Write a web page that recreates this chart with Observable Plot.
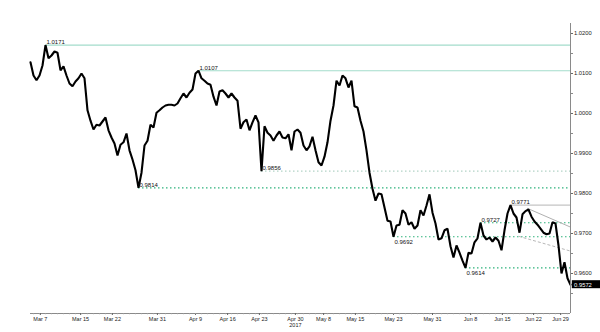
<!DOCTYPE html>
<html><head><meta charset="utf-8">
<script src="https://cdn.jsdelivr.net/npm/d3@7"></script>
<script src="https://cdn.jsdelivr.net/npm/@observablehq/plot@0.6"></script>
<style>body{margin:0;background:#fff}#chart svg{display:block}</style>
</head><body><div id="chart"></div>
<script>
// USD/CHF, Mar 7 – Jun 29 2017, one value per session step
const prices = [
1.0128,1.0095,1.0083,1.0095,1.0120,1.0171,1.0138,1.0145,1.0155,1.0152,
1.0108,1.0118,1.0095,1.0075,1.0068,1.0080,1.0088,1.0100,1.0088,1.0008,
0.9982,0.9960,0.9972,0.9970,0.9980,0.9990,0.9958,0.9940,0.9925,0.9895,
0.9922,0.9928,0.9950,0.9908,0.9885,0.9858,0.9814,0.9852,0.9920,0.9932,
0.9972,0.9965,1.0002,1.0008,1.0015,1.0020,1.0022,1.0022,1.0020,1.0025,
1.0038,1.0050,1.0040,1.0052,1.0060,1.0100,1.0107,1.0088,1.0082,1.0075,
1.0072,1.0042,1.0020,1.0055,1.0058,1.0050,1.0040,1.0050,1.0040,1.0032,
0.9962,0.9978,0.9985,0.9958,0.9978,0.9995,0.9978,0.9856,0.9968,0.9952,
0.9945,0.9932,0.9945,0.9955,0.9940,0.9938,0.9948,0.9908,0.9955,0.9960,
0.9952,0.9920,0.9908,0.9918,0.9942,0.9908,0.9878,0.9870,0.9892,0.9928,
0.9982,1.0020,1.0082,1.0070,1.0095,1.0088,1.0065,1.0082,1.0018,1.0015,
0.9982,0.9955,0.9908,0.9852,0.9812,0.9782,0.9800,0.9798,0.9765,0.9732,
0.9730,0.9692,0.9720,0.9722,0.9758,0.9750,0.9722,0.9728,0.9712,0.9720,
0.9758,0.9745,0.9770,0.9798,0.9752,0.9725,0.9685,0.9688,0.9708,0.9712,
0.9668,0.9640,0.9670,0.9652,0.9632,0.9614,0.9652,0.9650,0.9678,0.9688,
0.9727,0.9695,0.9685,0.9690,0.9680,0.9690,0.9682,0.9658,0.9708,0.9750,
0.9771,0.9750,0.9740,0.9702,0.9748,0.9756,0.9760,0.9742,0.9730,0.9722,
0.9712,0.9702,0.9698,0.9700,0.9728,0.9725,0.9670,0.9600,0.9628,0.9588,
0.9572];

const dateTickAt = [3.3,16.7,27.3,42.3,55,65.7,76.3,88.3,97.7,108.3,121,134,146.7,157.3,167.7,176.7];
const dateTickLabels = ["Mar 7","Mar 15","Mar 22","Mar 31","Apr 9","Apr 16","Apr 23","Apr 30","May 8","May 15","May 23","May 31","Jun 8","Jun 15","Jun 22","Jun 29"];
const yearLabel = "2017";
const yearAt = 88.3;
const priceTicks = [0.96,0.97,0.98,0.99,1.00,1.01,1.02];
const priceMinorTicks = [0.955,0.965,0.975,0.985,0.995,1.005,1.015];

// key levels: value, session index where it was set, kind
const levelValues = [1.0171,1.0107,0.9856,0.9814,0.9771,0.9727,0.9692,0.9614];
const levelAt     = [5,56,77,36,160,150,121,145];
const levelKinds  = ["peak","peak","minor","support","top","support","support","support"];
const levelLabelBelow = [false,false,false,false,false,false,true,true];

// trend channel
const trendFromAt = [165.6,162.7];
const trendFromValue = [0.9763,0.9693];
const trendToAt = [180,180];
const trendToValue = [0.9716,0.9656];
const trendKinds = ["upper","lower"];

const N = prices.length - 1;
const series = prices.map((p,i)=>({i,p}));
const levels = levelValues.map((v,k)=>({v,at:levelAt[k],kind:levelKinds[k],below:levelLabelBelow[k]}));
const trends = trendKinds.map((k,j)=>({kind:k,x1:trendFromAt[j],y1:trendFromValue[j],x2:trendToAt[j],y2:trendToValue[j]}));
const last = prices[N];

const levelStroke = {peak:"#a3dccb",minor:"#b3d3c6",support:"#2fb27c",top:"#c4c4c4"};
const levelDash = {peak:null,minor:"1.5,2.5",support:"1.5,2.5",top:null};
const labelMap = new Map(dateTickAt.map((d,i)=>[d,dateTickLabels[i]]));
const F = "Liberation Sans, Arial, sans-serif";

const chart = Plot.plot({
  width:600, height:332,
  marginLeft:30, marginRight:30, marginTop:23, marginBottom:19,
  style:{fontFamily:F, background:"#fff", color:"#222"},
  x:{domain:[0,N]},
  y:{domain:[0.95,1.0225]},
  marks:[
    ...Object.keys(levelStroke).map(kind=>Plot.ruleY(levels.filter(d=>d.kind===kind),{
      y:"v", x1:"at", x2:N, stroke:levelStroke[kind], strokeWidth:1.1, strokeDasharray:levelDash[kind]})),
    Plot.link(trends.filter(d=>d.kind==="upper"),{x1:"x1",y1:"y1",x2:"x2",y2:"y2",stroke:"#b0b0b0",strokeWidth:1}),
    Plot.link(trends.filter(d=>d.kind==="lower"),{x1:"x1",y1:"y1",x2:"x2",y2:"y2",stroke:"#b8b8b8",strokeWidth:1,strokeDasharray:"3,2"}),
    Plot.line(series,{x:"i",y:"p",stroke:"#000",strokeWidth:2.1,strokeLinejoin:"miter",curve:"linear"}),
    Plot.text(levels.filter(d=>!d.below),{x:"at",y:"v",text:d=>d.v.toFixed(4),textAnchor:"start",dx:1,dy:-3,fontSize:6,fill:"#111"}),
    Plot.text(levels.filter(d=>d.below),{x:"at",y:"v",text:d=>d.v.toFixed(4),textAnchor:"start",dx:1,dy:5,fontSize:6,fill:"#111"}),
    Plot.ruleX([N],{y1:0.95,y2:1.0225,stroke:"#8a8a8a",strokeWidth:1}),
    Plot.ruleY([0.95],{x1:0,x2:N,stroke:"#8a8a8a",strokeWidth:1}),
    Plot.axisY({anchor:"right",ticks:priceTicks,tickFormat:d=>d.toFixed(4),tickSize:2,tickPadding:1.5,fontSize:5.8,stroke:"#666",fill:"#222"}),
    Plot.axisY({anchor:"right",ticks:priceMinorTicks,tickFormat:()=>"",tickSize:2,stroke:"#888"}),
    Plot.axisX({ticks:dateTickAt,tickFormat:d=>labelMap.get(d),tickSize:2,tickPadding:1.5,fontSize:5.5,stroke:"#666",fill:"#222"}),
    Plot.axisX({ticks:d3.range(1,N,2),tickFormat:()=>"",tickSize:1.2,stroke:"#999"}),
    Plot.text([yearLabel],{x:yearAt,y:0.95,text:d=>d,dy:12,fontSize:5.5,fill:"#222"}),
    Plot.rect([last],{x1:N+0.6,x2:N+10,y1:d=>d-0.001,y2:d=>d+0.001,fill:"#000"}),
    Plot.text([last],{x:N+1.2,y:d=>d,text:d=>d.toFixed(4),textAnchor:"start",fontSize:5.8,fill:"#fff"})
  ]
});
document.getElementById("chart").appendChild(chart);
</script></body></html>
